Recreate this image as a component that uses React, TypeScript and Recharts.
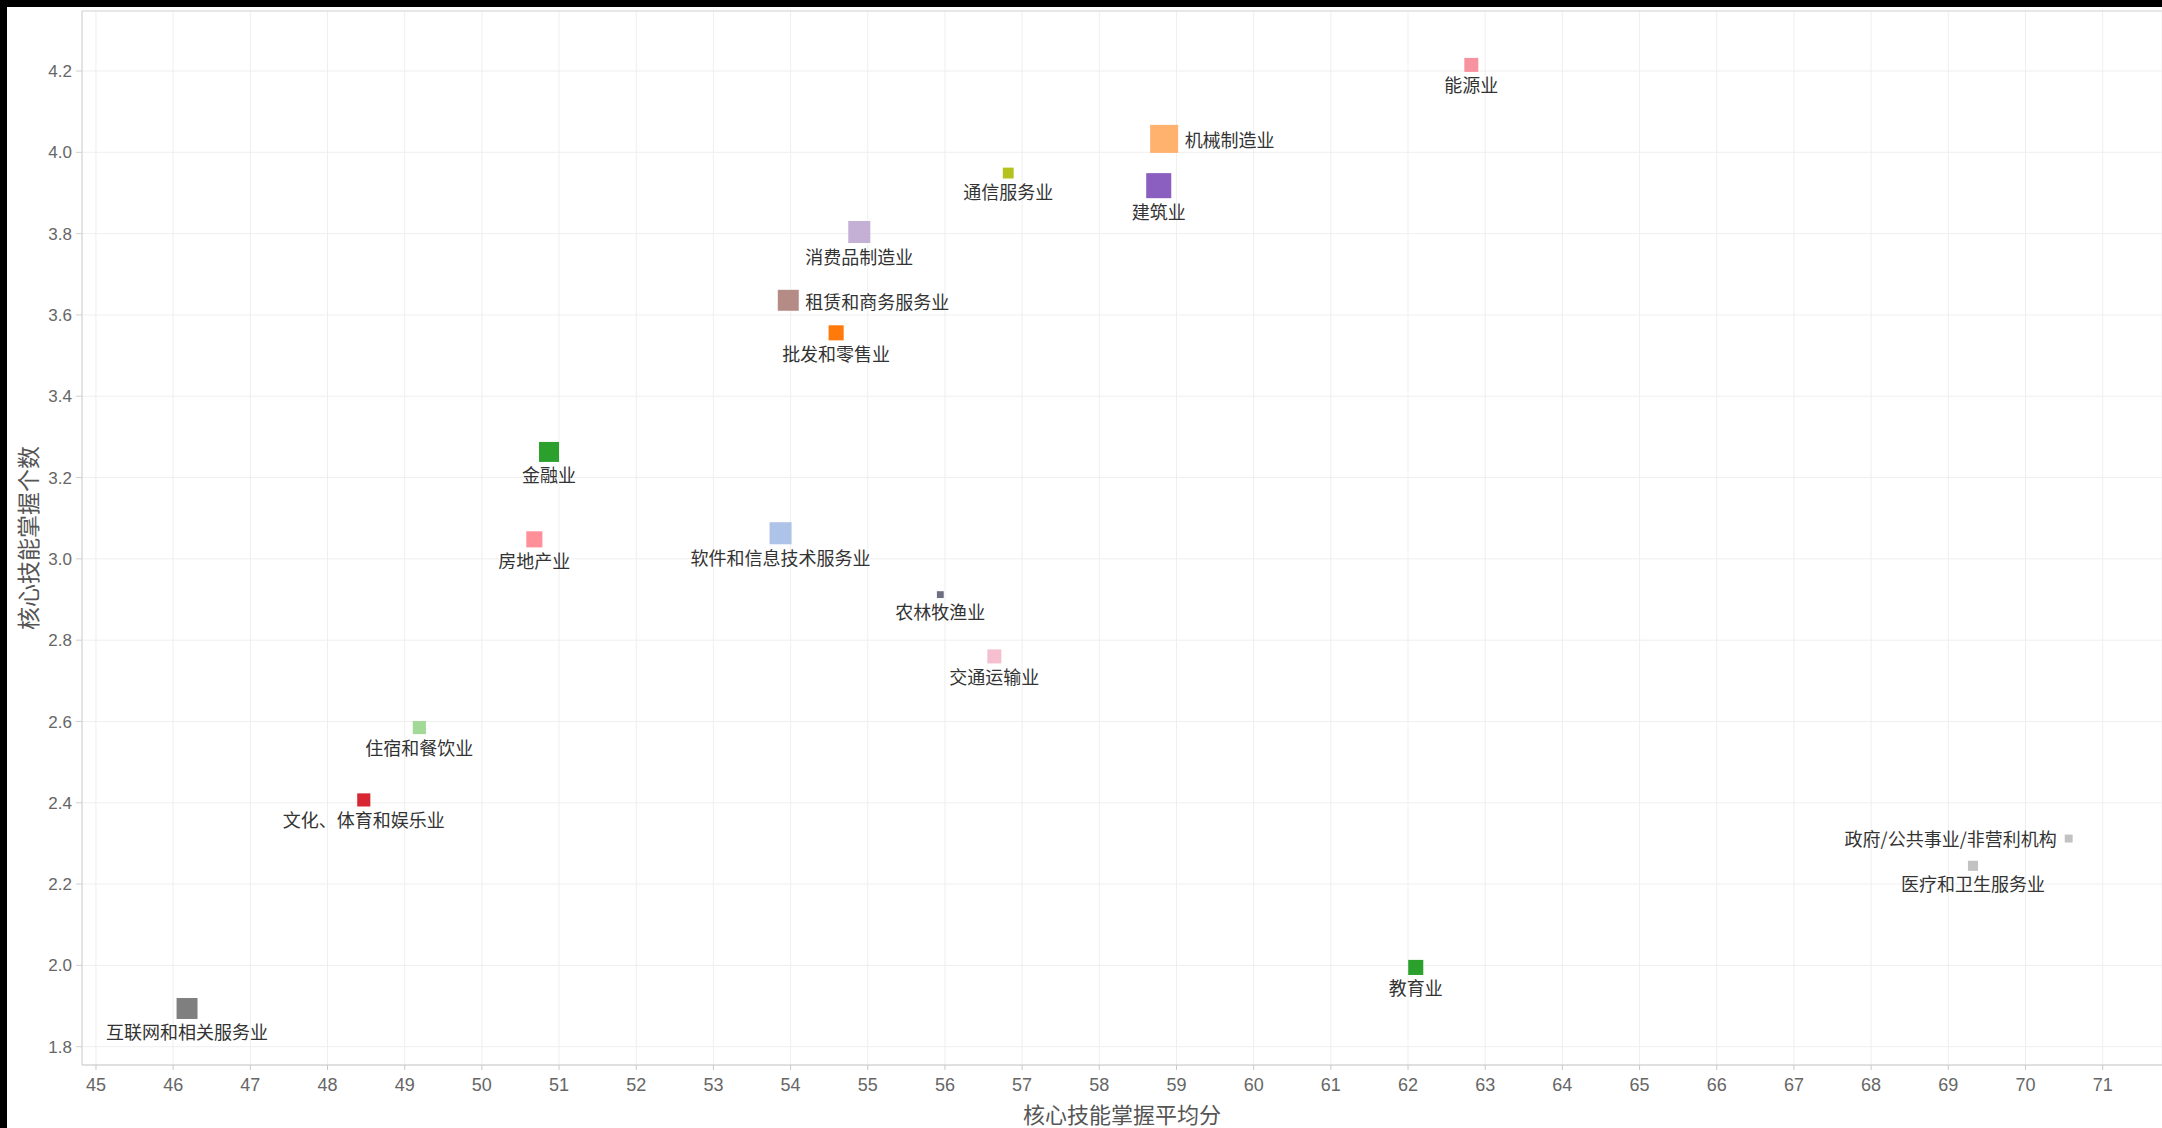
import {
  ScatterChart,
  Scatter,
  XAxis,
  YAxis,
  ZAxis,
  CartesianGrid,
  Cell,
  ReferenceLine,
} from 'recharts'

// 行业
const industries = [
  '能源业',
  '机械制造业',
  '通信服务业',
  '建筑业',
  '消费品制造业',
  '租赁和商务服务业',
  '批发和零售业',
  '金融业',
  '房地产业',
  '软件和信息技术服务业',
  '农林牧渔业',
  '交通运输业',
  '住宿和餐饮业',
  '文化、体育和娱乐业',
  '互联网和相关服务业',
  '教育业',
  '政府/公共事业/非营利机构',
  '医疗和卫生服务业',
]

// 核心技能掌握平均分
const avgScore = [
  62.82, 58.84, 56.82, 58.77, 54.89, 53.97, 54.59, 50.87, 50.68, 53.87, 55.94, 56.64,
  49.19, 48.47, 46.18, 62.1, 70.56, 69.32,
]

// 核心技能掌握个数
const skillCount = [
  4.215, 4.033, 3.949, 3.918, 3.804, 3.636, 3.556, 3.263, 3.048, 3.063, 2.912, 2.76,
  2.585, 2.407, 1.894, 1.995, 2.312, 2.245,
]

// 样本量（相对值，决定方块大小）
const weight = [25, 100, 15, 80, 62, 56, 29, 51, 33, 62, 6, 25, 22, 22, 56, 29, 8, 13]

const xTicks = [
  45, 46, 47, 48, 49, 50, 51, 52, 53, 54, 55, 56, 57, 58, 59, 60, 61, 62, 63, 64, 65, 66,
  67, 68, 69, 70, 71,
]
const yTicks = [1.8, 2.0, 2.2, 2.4, 2.6, 2.8, 3.0, 3.2, 3.4, 3.6, 3.8, 4.0, 4.2]

const X_DOMAIN: [number, number] = [44.819, 71.769]
const Y_DOMAIN: [number, number] = [1.755, 4.3476]

const colors: Record<string, string> = {
  能源业: '#f7939f',
  机械制造业: '#ffb26e',
  通信服务业: '#b4c21e',
  建筑业: '#8a5fc0',
  消费品制造业: '#c5b0d5',
  租赁和商务服务业: '#b48b85',
  批发和零售业: '#ff7a0a',
  金融业: '#2ca02c',
  房地产业: '#ff8f98',
  软件和信息技术服务业: '#aec3e8',
  农林牧渔业: '#6f6f84',
  交通运输业: '#f5bfd0',
  住宿和餐饮业: '#a2d997',
  '文化、体育和娱乐业': '#d62732',
  互联网和相关服务业: '#7f7f7f',
  教育业: '#2ca02c',
  '政府/公共事业/非营利机构': '#c2c2c2',
  医疗和卫生服务业: '#c2c2c2',
}

// 标签不在下方的几个点
const labelSide: Record<string, 'right' | 'left'> = {
  机械制造业: 'right',
  租赁和商务服务业: 'right',
  '政府/公共事业/非营利机构': 'left',
}

const chartData = industries.map((name, i) => ({
  name,
  x: avgScore[i],
  y: skillCount[i],
  weight: weight[i],
}))

const LABEL_FONT = '"Noto Sans CJK SC", sans-serif'
const TICK_FONT = '"Liberation Sans", Arial, sans-serif'

const SquareMark = (props: any) => {
  const { cx, cy, fill, payload } = props
  if (cx == null || cy == null) return null
  const s = Math.sqrt(Math.max(props.size ?? 0, 0))
  const side = labelSide[payload.name]
  let tx = cx
  let ty = cy + s / 2 + 12.5
  let anchor: 'middle' | 'start' | 'end' = 'middle'
  if (side === 'right') {
    tx = cx + s / 2 + 6.5
    ty = cy + 0.5
    anchor = 'start'
  } else if (side === 'left') {
    tx = cx - s / 2 - 8
    ty = cy - 0.5
    anchor = 'end'
  }
  return (
    <g>
      <rect x={cx - s / 2} y={cy - s / 2} width={s} height={s} fill={fill} />
      <text
        x={tx}
        y={ty}
        textAnchor={anchor}
        dominantBaseline="central"
        fontFamily={LABEL_FONT}
        fontSize={18}
        fill="#333"
      >
        {payload.name}
      </text>
    </g>
  )
}

const XTitle = ({ viewBox }: any) => {
  const { x, width } = viewBox
  return (
    <text
      x={x + width / 2}
      y={1106}
      textAnchor="middle"
      dominantBaseline="central"
      fontFamily={LABEL_FONT}
      fontSize={22}
      fill="#555"
    >
      核心技能掌握平均分
    </text>
  )
}

const YTitle = ({ viewBox }: any) => {
  const { y, height } = viewBox
  const cy = y + height / 2
  return (
    <text
      x={20}
      y={cy}
      transform={`rotate(-90, 20, ${cy})`}
      textAnchor="middle"
      dominantBaseline="central"
      fontFamily={LABEL_FONT}
      fontSize={23}
      fill="#555"
    >
      核心技能掌握个数
    </text>
  )
}

const App = () => {
  return (
    <div
      style={{
        position: 'absolute',
        left: 0,
        top: 0,
        width: 2162,
        height: 1128,
        background: '#000',
        overflow: 'hidden',
      }}
    >
      <div style={{ position: 'absolute', left: 7, top: 7, background: '#fff' }}>
        <ScatterChart
          width={2155}
          height={1121}
          margin={{ top: 4, right: 0, bottom: 0, left: 0 }}
        >
          <CartesianGrid stroke="#efefef" strokeWidth={1} />
          <XAxis
            type="number"
            dataKey="x"
            domain={X_DOMAIN}
            allowDataOverflow
            ticks={xTicks}
            interval={0}
            height={63}
            axisLine={{ stroke: '#c8c8c8' }}
            tickLine={{ stroke: '#c8c8c8' }}
            tickSize={5}
            tickMargin={8}
            tick={{ fontSize: 18, fill: '#666', fontFamily: TICK_FONT }}
            label={<XTitle />}
          />
          <YAxis
            type="number"
            dataKey="y"
            domain={Y_DOMAIN}
            allowDataOverflow
            ticks={yTicks}
            interval={0}
            width={75}
            axisLine={{ stroke: '#d0d0d0' }}
            tickLine={{ stroke: '#d0d0d0' }}
            tickSize={6}
            tickMargin={4}
            tickFormatter={(v: number) => v.toFixed(1)}
            tick={{ fontSize: 17, fill: '#666', fontFamily: TICK_FONT }}
            label={<YTitle />}
          />
          <ZAxis type="number" dataKey="weight" domain={[0, 100]} range={[0, 784]} />
          <ReferenceLine y={Y_DOMAIN[1]} stroke="#d8d8d8" />
          <Scatter data={chartData} shape={<SquareMark />} isAnimationActive={false}>
            {chartData.map((d) => (
              <Cell key={d.name} fill={colors[d.name]} />
            ))}
          </Scatter>
        </ScatterChart>
      </div>
    </div>
  )
}

export default App
